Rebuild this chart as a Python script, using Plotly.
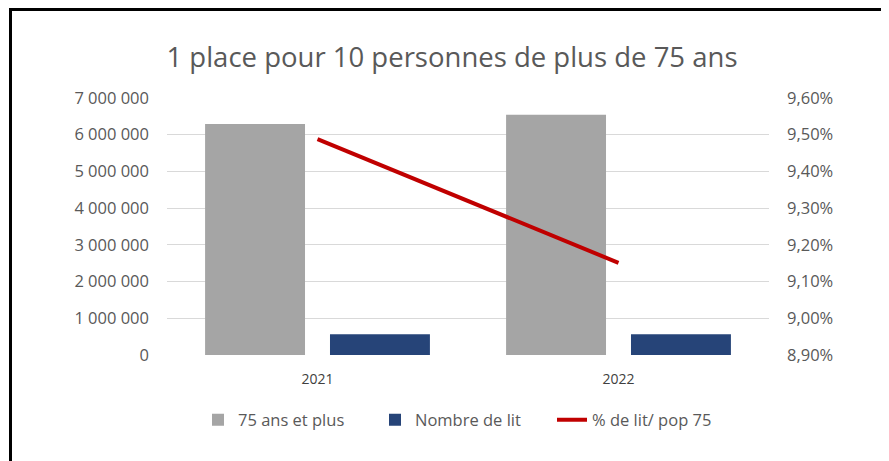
import plotly.graph_objects as go

years = ["2021", "2022"]
pop_75 = [6290000, 6545000]
nb_lits = [562000, 565000]
pct_lits = [0.09488, 0.09151]

title_text = "1 place pour 10 personnes de plus de 75 ans"
name_pop = "75 ans et plus"
name_lits = "Nombre de lit"
name_pct = "% de lit/ pop 75"

FONT = "Open Sans"
TXT = "#595959"

# page body has an 8px margin: work in screen pixels and shift
OFF = 8
W, H = 889 - OFF, 461 - OFF
PL, PR, PT, PB = 167 - OFF, 769 - OFF, 98 - OFF, 355 - OFF

fig = go.Figure()
fig.add_trace(go.Bar(x=years, y=pop_75, name=name_pop, marker_color="#A5A5A5",
                     marker_line_width=0, yaxis="y"))
fig.add_trace(go.Bar(x=years, y=nb_lits, name=name_lits, marker_color="#264478",
                     marker_line_width=0, yaxis="y"))
fig.add_trace(go.Scatter(x=years, y=pct_lits, name=name_pct, mode="lines",
                         line=dict(color="#C00000", width=4), yaxis="y2"))

def px_x(sx):
    return (sx - OFF - PL) / (PR - PL)

def px_y(sy):
    return (PB - (sy - OFF)) / (PB - PT)

fig.update_layout(
    width=W, height=H,
    margin=dict(l=PL, r=W - PR, t=PT, b=H - PB, autoexpand=False),
    paper_bgcolor="white", plot_bgcolor="white",
    separators=", ",
    barmode="group", bargap=0.17, bargroupgap=0.2,
    font=dict(family=FONT, color=TXT, size=16),
    title=dict(text=title_text, x=(452 - OFF) / W, xanchor="center",
               y=1 - (57 - OFF) / H, yanchor="middle",
               font=dict(family=FONT, size=27.5, color=TXT)),
    xaxis=dict(showgrid=False, showline=False, ticks="", zeroline=False,
               tickfont=dict(size=14, color="#404040"), ticklabelstandoff=14),
    yaxis=dict(range=[0, 7000000], dtick=1000000, tickformat=",d",
               showgrid=True, gridcolor="#D9D9D9", gridwidth=1, zeroline=False,
               showline=False, ticks="", tickfont=dict(size=16.5, color=TXT),
               ticklabelstandoff=17),
    yaxis2=dict(range=[0.089, 0.096], dtick=0.001, tickformat=".2%",
                overlaying="y", side="right", showgrid=False, zeroline=False,
                showline=False, ticks="", tickfont=dict(size=16.5, color=TXT),
                ticklabelstandoff=17),
    legend=dict(orientation="h", x=px_x(198), xanchor="left",
                y=px_y(420), yanchor="middle",
                font=dict(size=16.5, color=TXT), bgcolor="rgba(0,0,0,0)",
                entrywidth=132, entrywidthmode="pixels", traceorder="normal"),
    showlegend=True,
)

# frame lines (screen pixel positions)
frame = dict(type="line", xref="paper", yref="paper", line=dict(color="black", width=3))
fig.add_shape(**frame, x0=px_x(9), x1=px_x(900), y0=px_y(9.5), y1=px_y(9.5))
fig.add_shape(**frame, x0=px_x(10.5), x1=px_x(10.5), y0=px_y(8), y1=px_y(480))
fig.add_shape(**frame, x0=px_x(886.5), x1=px_x(886.5), y0=px_y(8), y1=px_y(480))

fig.write_html("out.html")
